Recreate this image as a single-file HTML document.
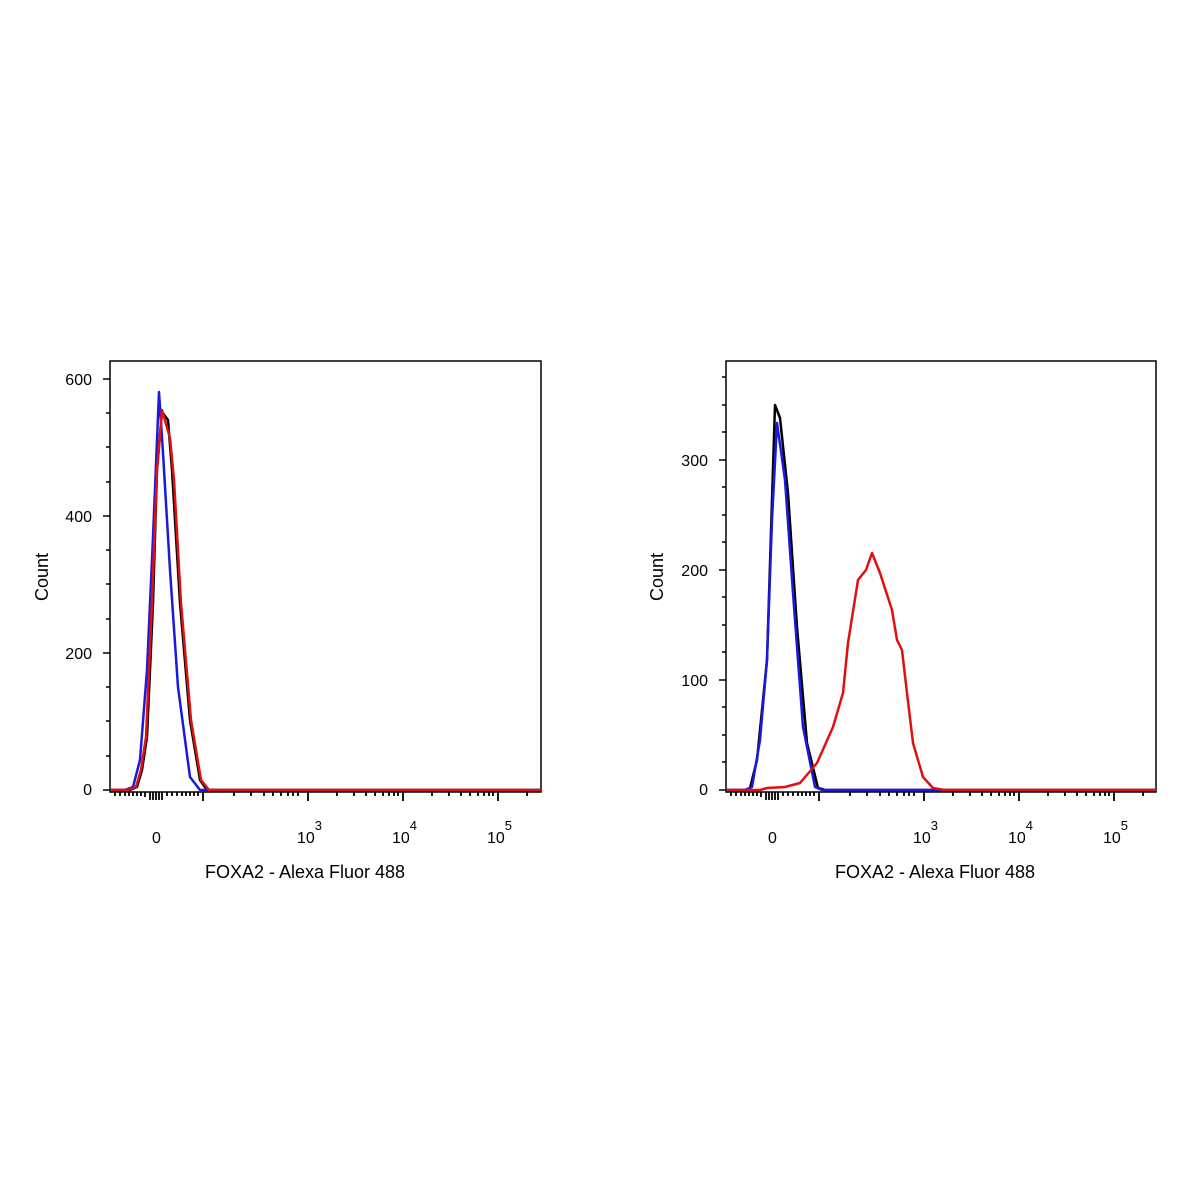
<!DOCTYPE html>
<html><head><style>body{margin:0;background:#fff}svg{display:block}</style></head><body>
<svg width="1200" height="1200" xmlns="http://www.w3.org/2000/svg" font-family="Liberation Sans, sans-serif">
<rect width="1200" height="1200" fill="#fff"/>
<g fill="none" stroke="#000" stroke-width="1.5">
<rect x="110" y="361" width="431" height="431"/>
<rect x="726" y="361" width="430" height="431"/>
</g>
<g stroke="#000" stroke-width="1.5" id="lt">
<line x1="103" y1="790" x2="110" y2="790"/><line x1="103" y1="653" x2="110" y2="653"/><line x1="103" y1="516" x2="110" y2="516"/><line x1="103" y1="379" x2="110" y2="379"/>
<line x1="106" y1="756" x2="110" y2="756"/><line x1="106" y1="721" x2="110" y2="721"/><line x1="106" y1="687" x2="110" y2="687"/><line x1="106" y1="619" x2="110" y2="619"/><line x1="106" y1="584" x2="110" y2="584"/><line x1="106" y1="550" x2="110" y2="550"/><line x1="106" y1="482" x2="110" y2="482"/><line x1="106" y1="447" x2="110" y2="447"/><line x1="106" y1="413" x2="110" y2="413"/>
<line x1="719" y1="790" x2="726" y2="790"/><line x1="719" y1="680" x2="726" y2="680"/><line x1="719" y1="570" x2="726" y2="570"/><line x1="719" y1="460" x2="726" y2="460"/>
<line x1="722" y1="762" x2="726" y2="762"/><line x1="722" y1="735" x2="726" y2="735"/><line x1="722" y1="707" x2="726" y2="707"/><line x1="722" y1="652" x2="726" y2="652"/><line x1="722" y1="625" x2="726" y2="625"/><line x1="722" y1="597" x2="726" y2="597"/><line x1="722" y1="542" x2="726" y2="542"/><line x1="722" y1="515" x2="726" y2="515"/><line x1="722" y1="487" x2="726" y2="487"/><line x1="722" y1="432" x2="726" y2="432"/><line x1="722" y1="405" x2="726" y2="405"/><line x1="722" y1="377" x2="726" y2="377"/>
</g>
<g id="xt" stroke="#000" stroke-width="1.8">
<path d="M115 792v4M120 792v4M125 792v4M129 792v4M133 792v4M137 792v4M141 792v4M145 792v5M150 792v8M153 792v8M156 792v8M159 792v8M162 792v8M167 792v4M172 792v4M177 792v4M182 792v4M186 792v4M190 792v4M194 792v4M198 792v4M203 792v9M234 792v4M251 792v4M264 792v4M273 792v4M281 792v4M288 792v4M293 792v4M298 792v4M308 792v9M337 792v4M354 792v4M366 792v4M375 792v4M383 792v4M389 792v4M394 792v4M398 792v4M403 792v9M432 792v4M449 792v4M461 792v4M470 792v4M478 792v4M484 792v4M489 792v4M493 792v4M498 792v9M527 792v4"/>
</g>
<use href="#xt" x="616"/>
<g font-size="16" fill="#000">
<text x="92" y="385" text-anchor="end">600</text><text x="92" y="522" text-anchor="end">400</text><text x="92" y="659" text-anchor="end">200</text><text x="92" y="795" text-anchor="end">0</text>
<text x="708" y="466" text-anchor="end">300</text><text x="708" y="576" text-anchor="end">200</text><text x="708" y="686" text-anchor="end">100</text><text x="708" y="795" text-anchor="end">0</text>
<text x="152" y="843">0</text><text x="297" y="843">10<tspan font-size="13" dy="-13">3</tspan></text><text x="392" y="843">10<tspan font-size="13" dy="-13">4</tspan></text><text x="487" y="843">10<tspan font-size="13" dy="-13">5</tspan></text>
<text x="768" y="843">0</text><text x="913" y="843">10<tspan font-size="13" dy="-13">3</tspan></text><text x="1008" y="843">10<tspan font-size="13" dy="-13">4</tspan></text><text x="1103" y="843">10<tspan font-size="13" dy="-13">5</tspan></text>
<text x="305" y="878" text-anchor="middle" font-size="18">FOXA2 - Alexa Fluor 488</text>
<text x="935" y="878" text-anchor="middle" font-size="18">FOXA2 - Alexa Fluor 488</text>
<text transform="translate(48 577) rotate(-90)" text-anchor="middle" font-size="18">Count</text>
<text transform="translate(663 577) rotate(-90)" text-anchor="middle" font-size="18">Count</text>
</g>
<g fill="none" stroke-width="2.5" stroke-linejoin="round">
<path stroke="#000" d="M111 790L130 790L137 787L142 770L147 737L153 603L157 470L162 412L168 420L172 470L180 603L190 720L200 780L207 790L541 790"/>
<path stroke="#1a1adc" d="M111 790L125 790L133 787L140 760L147 670L153 537L159 392L163 453L170 570L178 687L190 777L200 790L541 790"/>
<path stroke="#e01010" d="M111 790L128 790L136 787L141 770L146 737L152 603L157 470L162 410L170 438L174 480L181 603L191 720L201 780L209 790L541 790"/>
<path stroke="#000" d="M727 790L745 790L750 788L757 760L767 660L772 500L775 405L780 418L788 493L797 627L807 743L818 788L825 790L1156 790"/>
<path stroke="#1a1adc" d="M727 790L745 790L752 787L760 740L767 660L772 520L777 423L785 480L793 593L803 727L815 787L822 790L1156 790"/>
<path stroke="#e01010" d="M727 790L760 790L767 788L785 787L800 783L817 763L833 727L843 693L848 643L858 580L866 570L872 553L880 573L892 610L897 640L902 650L907 693L913 743L923 777L933 788L945 790L1156 790"/>
</g>
</svg>
</body></html>
